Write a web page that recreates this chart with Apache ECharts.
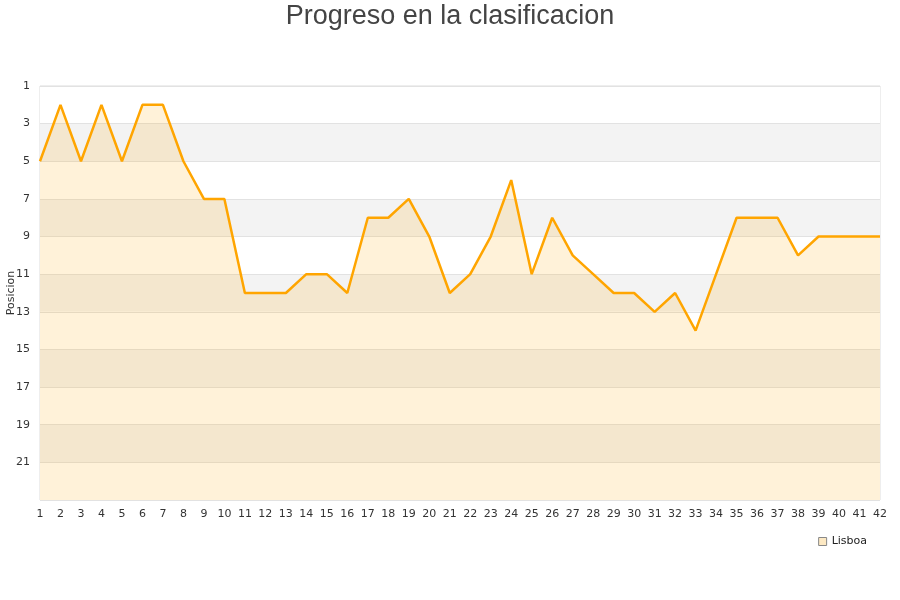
<!DOCTYPE html>
<html><head><meta charset="utf-8">
<script src="https://cdn.jsdelivr.net/npm/echarts@6/dist/echarts.min.js"></script>
<style>html,body{margin:0;padding:0;background:#fff}#c{width:900px;height:600px}</style>
</head><body><div id="c"></div>
<script>
const jornadas = ['1','2','3','4','5','6','7','8','9','10','11','12','13','14','15','16','17','18','19','20','21','22','23','24','25','26','27','28','29','30','31','32','33','34','35','36','37','38','39','40','41','42'];
const posicionLisboa = [5,2,5,2,5,2,2,5,7,7,12,12,12,11,11,12,8,8,7,9,12,11,9,6,11,8,10,11,12,12,13,12,14,11,8,8,8,10,9,9,9,9];
const titulo = 'Progreso en la clasificacion';
const equipo = 'Lisboa';

const chart = echarts.init(document.getElementById('c'));
chart.setOption({
  animation: false,
  title: {text: titulo, left: 'center', top: -2, textStyle: {fontFamily: 'Liberation Sans', fontSize: 27, fontWeight: 'normal', color: '#444'}},
  grid: {left: 40, right: 20, top: 86, bottom: 100, containLabel: false, outerBoundsMode: 'none', show: true, borderColor: '#ddd', borderWidth: 1},
  legend: {data: [equipo], right: 28, top: 531, itemWidth: 8, itemHeight: 8, icon: 'rect',
    itemStyle: {color: '#fde9c3', borderColor: '#888', borderWidth: 1},
    textStyle: {fontFamily: 'DejaVu Sans', fontSize: 11, color: '#222'}},
  xAxis: {type: 'category', data: jornadas, boundaryGap: false,
    axisLine: {show: false}, axisTick: {show: false},
    axisLabel: {interval: 0, fontFamily: 'DejaVu Sans', fontSize: 11, color: '#333', margin: 9},
    splitLine: {show: false}},
  yAxis: {type: 'value', inverse: true, min: 1, max: 23, interval: 2,
    name: 'Posicion', nameLocation: 'middle', nameGap: 23, nameRotate: 90, nameMoveOverlap: false,
    nameTextStyle: {fontFamily: 'DejaVu Sans', fontSize: 11, color: '#333'},
    axisLine: {show: false}, axisTick: {show: false},
    axisLabel: {showMaxLabel: false, fontFamily: 'DejaVu Sans', fontSize: 11, color: '#333', margin: 10},
    splitLine: {show: true, lineStyle: {color: '#e2e2e2'}},
    splitArea: {show: true, areaStyle: {color: ['#ffffff', '#f3f3f3']}}},
  series: [{name: equipo, type: 'line', data: posicionLisboa, showSymbol: false, symbol: 'none',
    lineStyle: {color: '#FFA500', width: 2.5},
    itemStyle: {color: '#FFA500'},
    areaStyle: {color: 'rgba(255,165,0,0.21)', origin: 'end'}}]
});
</script></body></html>
